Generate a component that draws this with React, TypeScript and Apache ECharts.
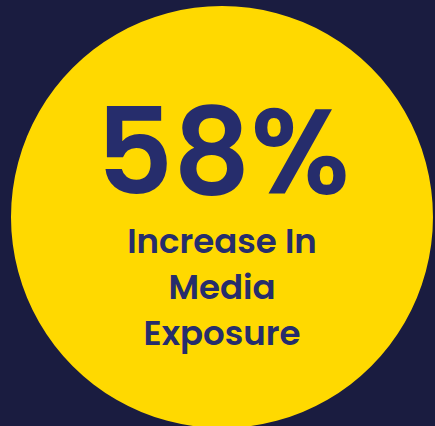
import React, { useEffect, useRef } from "react";
import * as echarts from "echarts";

const statValues = [58];
const statUnit = "%";
const captionLines = ["Increase In", "Media", "Exposure"];

export default function App() {
  const ref = useRef<HTMLDivElement>(null);
  useEffect(() => {
    document.body.style.margin = "0";
    const chart = echarts.init(ref.current!, null, { renderer: "svg" });
    const font = "Poppins, Inter, 'Noto Sans', sans-serif";
    const textColor = "#262d6c";
    chart.setOption({
      animation: false,
      backgroundColor: "#1a1c40",
      series: [
        {
          type: "pie",
          center: [222, 217],
          radius: [0, 211],
          silent: true,
          z: 1,
          label: { show: false },
          labelLine: { show: false },
          itemStyle: { color: "#ffd900", borderWidth: 0 },
          data: statValues.map((v) => ({ value: v, name: "stat" })),
        },
      ],
      graphic: {
        elements: [
          {
            type: "text",
            x: 223,
            y: 152,
            z: 100,
            style: {
              text: statValues[0] + statUnit,
              fill: textColor,
              font: `600 120px ${font}`,
              lineHeight: 90,
              textAlign: "center",
              textVerticalAlign: "middle",
            },
          },
          ...captionLines.map((t, i) => ({
            type: "text",
            x: 222,
            y: 241 + i * 46,
            z: 100,
            style: {
              text: t,
              fill: textColor,
              font: `600 34px ${font}`,
              lineHeight: 40,
              textAlign: "center",
              textVerticalAlign: "middle",
            },
          })),
        ],
      },
    });
    return () => chart.dispose();
  }, []);
  return (
    <div
      ref={ref}
      style={{ position: "fixed", left: 0, top: 0, width: 435, height: 426 }}
    />
  );
}
